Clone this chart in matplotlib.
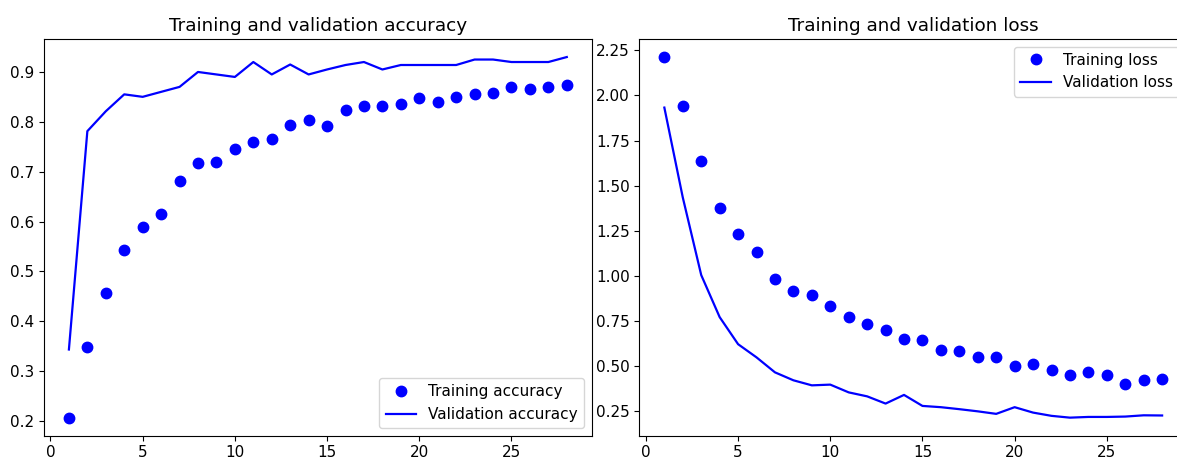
import matplotlib.pyplot as plt

# данные по эпохам
epochs = list(range(1, 29))

acc = [0.206, 0.349, 0.456, 0.543, 0.589, 0.615, 0.681, 0.717, 0.719, 0.746,
       0.760, 0.767, 0.795, 0.805, 0.792, 0.825, 0.833, 0.833, 0.837, 0.849,
       0.841, 0.851, 0.857, 0.859, 0.870, 0.866, 0.871, 0.874]
val_acc = [0.343, 0.782, 0.822, 0.856, 0.851, 0.861, 0.871, 0.901, 0.896, 0.891,
           0.921, 0.896, 0.916, 0.896, 0.906, 0.915, 0.921, 0.906, 0.915, 0.915,
           0.915, 0.915, 0.926, 0.926, 0.921, 0.921, 0.921, 0.931]

loss = [2.213, 1.939, 1.635, 1.376, 1.232, 1.134, 0.982, 0.917, 0.895, 0.834,
        0.775, 0.733, 0.703, 0.650, 0.645, 0.591, 0.584, 0.549, 0.549, 0.501,
        0.514, 0.477, 0.453, 0.466, 0.453, 0.400, 0.424, 0.431]
val_loss = [1.933, 1.435, 1.005, 0.772, 0.622, 0.549, 0.466, 0.422, 0.394, 0.398,
            0.355, 0.333, 0.293, 0.341, 0.280, 0.273, 0.262, 0.250, 0.236, 0.273,
            0.243, 0.225, 0.215, 0.219, 0.219, 0.221, 0.228, 0.227]

plt.rcParams['font.size'] = 11
plt.rcParams['axes.titlesize'] = 13.2
plt.rcParams['lines.linewidth'] = 1.6

fig = plt.figure(figsize=(11.77, 4.59), dpi=100)
ax1 = fig.add_axes([0.0374, 0.0508, 0.4653, 0.8642])
ax2 = fig.add_axes([0.5433, 0.0508, 0.4652, 0.8642])

# точность
ax1.plot(epochs, acc, 'bo', markersize=7.5, label='Training accuracy')
ax1.plot(epochs, val_acc, 'b', label='Validation accuracy')
ax1.set_title('Training and validation accuracy')
ax1.legend(loc='lower right')

# потери
ax2.plot(epochs, loss, 'bo', markersize=7.5, label='Training loss')
ax2.plot(epochs, val_loss, 'b', label='Validation loss')
ax2.set_title('Training and validation loss')
ax2.legend(loc='upper right')

fig.savefig('out.png')
plt.close(fig)
